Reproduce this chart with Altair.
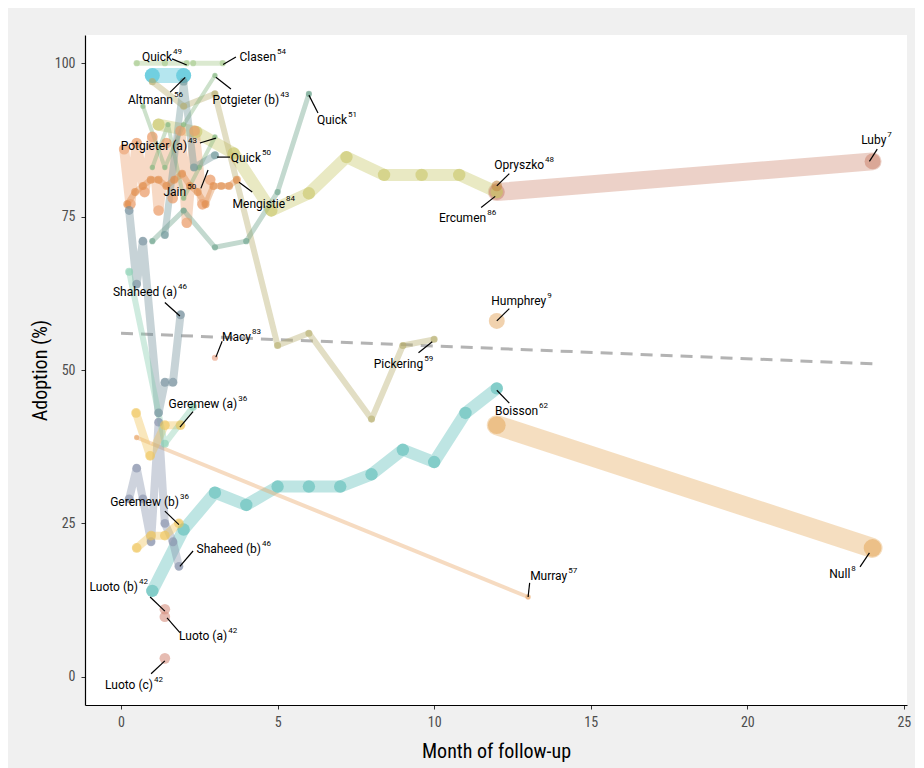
import altair as alt
import pandas as pd

# ---------------- data ----------------
luby_x = [12, 24];                luby_y = [79, 84]
opryszko_x = [12];                opryszko_y = [80]
ercumen_x = [1.2, 2.4, 3.6, 4.8, 6.0, 7.2, 8.4, 9.6, 10.8, 12]
ercumen_y = [90, 88.8, 85.3, 76, 78.8, 84.7, 81.8, 81.8, 81.8, 79]
null_x = [12, 24];                null_y = [41, 21]
humphrey_x = [12];                humphrey_y = [58]
boisson_x = [1, 2, 3, 4, 5, 6, 7, 8, 9, 10, 11, 12]
boisson_y = [14, 24, 30, 28, 31, 31, 31, 33, 37, 35, 43, 47]
murray_x = [0.5, 13];             murray_y = [39, 13]
macy_x = [3];                     macy_y = [52]
pickering_x = [1, 2, 3, 5, 6, 8, 9, 10]
pickering_y = [97, 93, 95, 54, 56, 42, 54, 55]
quick49_x = [0.5, 1.4, 2.1];      quick49_y = [100, 100, 100]
clasen_x = [2.3, 3.25];           clasen_y = [100, 100]
altmann_x = [1, 2];               altmann_y = [98, 98]
potgieter_b_x = [0.7, 1.4, 2.0, 3.0];      potgieter_b_y = [93, 83, 90, 98]
potgieter_a_x = [1.0, 1.5, 2.0, 2.5, 3.0]; potgieter_a_y = [83, 90, 78, 83, 88]
quick51_x = [1, 2, 3, 4, 5, 6];   quick51_y = [71, 76, 70, 71, 79, 95]
quick50_x = [1.4, 2.0, 2.33, 3.0]; quick50_y = [72, 97, 83, 85]
jain_x = [0.1, 0.3, 0.5, 0.75, 1.0, 1.2, 1.45, 1.65, 1.9, 2.1, 2.35, 2.6, 2.85]
jain_y = [86, 77, 87, 79, 88, 76, 87, 78, 89, 74, 89, 77, 81]
mengistie_x = [0.2, 0.45, 0.7, 0.95, 1.2, 1.45, 1.7, 1.95, 2.2, 2.45, 2.7, 2.95, 3.2, 3.45, 3.7]
mengistie_y = [77, 79, 80, 81, 81, 80, 81, 82, 80, 79, 77, 80, 80, 80, 81]
shaheed_a_x = [0.26, 0.5, 0.7, 1.2, 1.4, 1.66, 1.9]
shaheed_a_y = [76, 64, 71, 43, 48, 48, 59]
shaheed_b_x = [0.26, 0.5, 0.7, 0.96, 1.2, 1.4, 1.66, 1.85]
shaheed_b_y = [29, 34, 29, 22, 41.5, 25, 22, 18]
geremew_a_x = [0.48, 0.93, 1.4, 1.9];  geremew_a_y = [43, 36, 41, 41]
geremew_b_x = [0.5, 0.96, 1.4, 1.85];  geremew_b_y = [21, 23, 23, 25]
mint_x = [0.26, 1.4, 2.3];             mint_y = [66, 38, 44]
luoto_a_x = [1.4];  luoto_a_y = [9.8]
luoto_b_x = [1.4];  luoto_b_y = [11]
luoto_c_x = [1.4];  luoto_c_y = [3]
trend_x = [0, 24];  trend_y = [56, 51]

series_data = {
    "Luby": (luby_x, luby_y), "Null": (null_x, null_y),
    "Ercumen": (ercumen_x, ercumen_y), "Boisson": (boisson_x, boisson_y),
    "Humphrey": (humphrey_x, humphrey_y), "Opryszko": (opryszko_x, opryszko_y),
    "Jain": (jain_x, jain_y), "Altmann": (altmann_x, altmann_y),
    "Pickering": (pickering_x, pickering_y), "Murray": (murray_x, murray_y),
    "Macy": (macy_x, macy_y), "Quick49": (quick49_x, quick49_y),
    "Clasen": (clasen_x, clasen_y), "PotgieterB": (potgieter_b_x, potgieter_b_y),
    "PotgieterA": (potgieter_a_x, potgieter_a_y), "Quick51": (quick51_x, quick51_y),
    "Quick50": (quick50_x, quick50_y), "Mengistie": (mengistie_x, mengistie_y),
    "ShaheedA": (shaheed_a_x, shaheed_a_y), "ShaheedB": (shaheed_b_x, shaheed_b_y),
    "GeremewA": (geremew_a_x, geremew_a_y), "GeremewB": (geremew_b_x, geremew_b_y),
    "Mint": (mint_x, mint_y), "LuotoA": (luoto_a_x, luoto_a_y),
    "LuotoB": (luoto_b_x, luoto_b_y), "LuotoC": (luoto_c_x, luoto_c_y),
}

# ---------------- styles: colour, line width (px), dot diameter (px) ----------------
styles = {
    "Luby": ("#cf8b76", 18, 18), "Null": ("#e6ac62", 20, 20),
    "Ercumen": ("#c9c768", 12, 14), "Boisson": ("#5cbdb8", 12, 14),
    "Humphrey": ("#e8b478", 0, 18), "Opryszko": ("#c58a48", 0, 12),
    "Jain": ("#eb9f6d", 10, 12), "Altmann": ("#45c0d6", 15, 17),
    "Pickering": ("#b6ad6c", 6, 8), "Murray": ("#e9a565", 4, 6),
    "Macy": ("#e89a7a", 0, 7), "Quick49": ("#a4c98a", 5, 7),
    "Clasen": ("#a4c98a", 5, 7), "PotgieterB": ("#82b57e", 4, 6),
    "PotgieterA": ("#82b57e", 4, 6), "Quick51": ("#68a088", 5, 7),
    "Quick50": ("#6d9698", 7, 9), "Mengistie": ("#df8a47", 6, 9),
    "ShaheedA": ("#74909c", 8, 10), "ShaheedB": ("#8590aa", 8, 10),
    "GeremewA": ("#efc458", 8, 11), "GeremewB": ("#efc458", 8, 11),
    "Mint": ("#86ceb0", 6, 9), "LuotoA": ("#d5907e", 0, 12),
    "LuotoB": ("#d5907e", 0, 12), "LuotoC": ("#d5907e", 0, 12),
}

# label name, reference number; anchored where the name ends and the superscript begins
label_name = ["Quick", "Clasen", "Altmann", "Potgieter (b)", "Quick",
              "Potgieter (a)", "Quick", "Jain", "Mengistie", "Opryszko",
              "Ercumen", "Luby", "Shaheed (a)", "Macy", "Humphrey",
              "Pickering", "Geremew (a)", "Boisson", "Geremew (b)",
              "Shaheed (b)", "Murray", "Null", "Luoto (b)", "Luoto (a)", "Luoto (c)"]
label_ref = ["49", "54", "56", "43", "51", "43", "50", "50", "84", "48", "86", "7",
             "46", "83", "9", "59", "36", "62", "36", "46", "57", "8", "42", "42", "42"]
label_x = [1.63, 4.95, 1.66, 5.05, 7.22, 2.11, 4.47, 2.08, 5.24, 13.51, 11.66, 24.44,
           1.79, 4.15, 13.58, 9.65, 3.71, 13.32, 1.85, 4.47, 14.25, 23.29, 0.54, 3.39, 1.02]
label_y = [101, 101, 94, 94, 90.7, 86.5, 84.5, 79, 77, 83.4, 74.8, 87.5,
           62.7, 55.4, 61.2, 51, 44.5, 43.3, 28.5, 20.8, 16.4, 16.8, 14.7, 6.7, -1.3]
seg_x1 = [1.63, 3.26, 1.57, 3.03, 6.0, 2.52, 3.07, 2.55, 3.77, 12.0, 11.5, 23.9,
          1.4, 3.03, 12.0, 9.5, 1.88, 12.0, 1.4, 1.88, 13.0, 23.6, 0.93, 1.47, 0.96]
seg_y1 = [100.7, 99.8, 95.3, 97.7, 94.8, 87.0, 84.7, 79.6, 80.6, 80.0, 76.5, 84.0,
          61.0, 52.1, 58.0, 52.8, 40.7, 46.7, 27.0, 18.0, 13.0, 17.9, 13.0, 9.6, 0.5]
seg_x2 = [2.1, 3.67, 2.05, 3.51, 6.29, 3.03, 3.48, 2.78, 4.19, 12.4, 11.95, 24.15,
          1.88, 3.23, 12.4, 9.94, 2.3, 12.4, 1.85, 2.3, 13.05, 23.9, 1.4, 1.88, 1.4]
seg_y2 = [99.7, 101.0, 97.7, 95.8, 91.9, 87.8, 84.7, 82.6, 79.0, 82.0, 78.3, 86.0,
          58.8, 54.7, 60.0, 54.6, 43.2, 44.6, 24.8, 20.5, 15.3, 20.2, 10.7, 7.2, 2.6]

x_ticks = [0, 5, 10, 15, 20, 25]
y_ticks = [0, 25, 50, 75, 100]

# ---------------- build tables ----------------
rows = []
for order, (name, (xs, ys)) in enumerate(series_data.items()):
    col, w, d = styles[name]
    for i, (xv, yv) in enumerate(zip(xs, ys)):
        rows.append({"series": name, "grp": order, "i": i, "x": xv, "y": yv,
                     "col": col, "w": w, "s": 0.785 * d * d})
df = pd.DataFrame(rows)
lines_df = df[df["w"] > 0]

labels_df = pd.DataFrame({"name": label_name, "ref": label_ref, "x": label_x, "y": label_y})
segs_df = pd.DataFrame({"x": seg_x1, "y": seg_y1, "x2": seg_x2, "y2": seg_y2})
trend_df = pd.DataFrame({"x": trend_x, "y": trend_y})

xs = alt.Scale(domain=[-1.15, 25.1], nice=False, zero=False)
ys = alt.Scale(domain=[-4.6, 104.6], nice=False, zero=False)

X = alt.X("x:Q", scale=xs, axis=alt.Axis(values=x_ticks, title="Month of follow-up"))
Y = alt.Y("y:Q", scale=ys, axis=alt.Axis(values=y_ticks, title="Adoption (%)"))

line_layer = alt.Chart(lines_df).mark_line(strokeCap="round", strokeJoin="round").encode(
    x=X, y=Y,
    detail="series:N",
    order="i:Q",
    color=alt.Color("col:N", scale=None),
    strokeWidth=alt.StrokeWidth("w:Q", scale=None),
    opacity=alt.value(0.4),
)

point_layer = alt.Chart(df).mark_circle().encode(
    x=X, y=Y,
    color=alt.Color("col:N", scale=None),
    size=alt.Size("s:Q", scale=None),
    opacity=alt.value(0.6),
)

trend_layer = alt.Chart(trend_df).mark_line(strokeDash=[12, 8], color="#b3b3b3",
                                            strokeWidth=3).encode(x=X, y=Y)

seg_layer = alt.Chart(segs_df).mark_rule(color="black", strokeWidth=1.2).encode(
    x=X, y=Y, x2="x2:Q", y2="y2:Q")

name_layer = alt.Chart(labels_df).mark_text(font="Roboto", fontSize=12, color="black",
                                            align="right", baseline="middle").encode(
    x=X, y=Y, text="name:N")

ref_layer = alt.Chart(labels_df).mark_text(font="Roboto", fontSize=8, color="black",
                                           align="left", baseline="middle", dx=1, dy=-5).encode(
    x=X, y=Y, text="ref:N")

chart = alt.layer(trend_layer, line_layer, point_layer, seg_layer, name_layer, ref_layer).properties(
    width=822, height=670,
    autosize=alt.AutoSizeParams(type="none"),
    padding={"left": 77, "top": 27, "right": 8, "bottom": 63},
    background="#f0f0f0",
).configure_view(fill="white", stroke=None).configure_axis(
    grid=False, domainColor="black", domainWidth=1.2, tickColor="#333333",
    tickSize=4, labelFont="Roboto Condensed", labelFontSize=14, labelColor="#4d4d4d",
    titleFont="Roboto Condensed", titleFontSize=20, titleFontWeight="normal",
    titleColor="black", labelPadding=6,
).configure_axisY(titlePadding=4).configure_axisX(titlePadding=12)

chart.save("out.html", embed_options={"renderer": "svg", "actions": False})
